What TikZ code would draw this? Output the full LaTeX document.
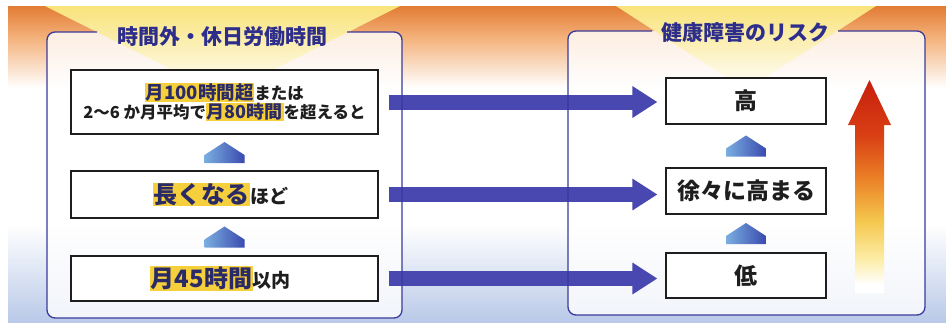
\documentclass[tikz,border=0pt]{standalone}
\usepackage{fontspec}
\setmainfont{Noto Sans CJK JP}
\usetikzlibrary{arrows.meta,calc}
\definecolor{navy}{HTML}{2D2D8C}
\definecolor{frameblue}{HTML}{3A3A9C}
\definecolor{arrowblue}{HTML}{4848B0}
\definecolor{hly}{HTML}{F6CF3C}
\definecolor{hltext}{HTML}{2A2A66}
\definecolor{ink}{HTML}{1E1E1E}
\definecolor{orangeA}{HTML}{E27C34}
\definecolor{orangeB}{HTML}{F4B27C}
\definecolor{bgblue}{HTML}{B9C9E8}
\definecolor{triyellow}{HTML}{F9E37A}
\definecolor{pentL}{HTML}{7AAEE0}
\definecolor{pentR}{HTML}{3A4AAE}
\pgfdeclareverticalshading{riskshade}{100bp}{rgb(0bp)=(1,1,1); rgb(27bp)=(1,1,1); rgb(33bp)=(0.99,0.93,0.65); rgb(42bp)=(0.96,0.78,0.3); rgb(52bp)=(0.92,0.5,0.15); rgb(62bp)=(0.85,0.25,0.08); rgb(75bp)=(0.78,0.12,0.05); rgb(100bp)=(0.78,0.12,0.05)}
\newcommand\hlt[1]{{\setlength{\fboxsep}{0.8pt}\colorbox{hly}{\color{hltext}#1}}}
\newcommand\upmark[2]{\shade[left color=pentL, right color=pentR] ($(#1)!0.5!(#2)+(-20,10.5)$) -- ++(0,-8) -- ++(20,-13) -- ++(20,13) -- ++(0,8) -- cycle;}
\tikzset{
  frameline/.style={draw=frameblue, line width=1.3pt, rounded corners=8pt},
  titletext/.style={font=\bfseries\fontsize{21}{24}\selectfont, text=navy, inner sep=0pt},
  lbox/.style={draw=ink, line width=1.1pt, fill=white, minimum width=307pt, inner sep=0pt, align=center, text=ink, font=\bfseries},
  rbox/.style={draw=ink, line width=1.1pt, fill=white, minimum width=160pt, inner sep=0pt, align=center, text=ink, font=\bfseries\fontsize{23}{28}\selectfont},
  bigarrow/.style={draw=arrowblue, line width=15pt, -{Triangle[width=30pt,length=25pt]}, shorten <=10pt, shorten >=8pt}
}
\begin{document}
\begin{tikzpicture}[x=1pt,y=-1pt]
\useasboundingbox (0,0) rectangle (946,322);
\fill[white] (0,0) rectangle (946,322);
% background bands
\shade[top color=orangeA, bottom color=orangeB] (8,6) rectangle (946,38);
\shade[top color=orangeB, bottom color=white] (8,38) rectangle (946,88);
\shade[top color=white, bottom color=bgblue] (8,225) rectangle (946,322);
% frame fills
\fill[white, opacity=0.8, rounded corners=8pt] (47,32) rectangle (402,318);
\fill[white, opacity=0.8, rounded corners=8pt] (568,31) rectangle (925,315);
% yellow light cones
\shade[top color=triyellow, bottom color=white] (45,6) -- (400,6) -- (223,95) -- cycle;
\shade[top color=triyellow, bottom color=white] (616,6) -- (876,6) -- (746,90) -- cycle;
% boxes
\node[lbox, minimum height=64pt] (L1) at (224.5,102) {\fontsize{16.5}{27}\selectfont\hlt{\fontsize{18.5}{27}\selectfont 月100時間超}または\\\fontsize{16.5}{27}\selectfont 2～6 か月平均で\hlt{\fontsize{18}{27}\selectfont 月80時間}を超えると};
\node[lbox, minimum height=47pt] (L2) at (224.5,194.5) {\hspace*{-8pt}\hlt{\fontsize{24}{28}\selectfont 長くなる}{\fontsize{19}{28}\selectfont ほど}};
\node[lbox, minimum height=45pt] (L3) at (224.5,278.5) {\hspace*{-8pt}\hlt{\fontsize{24}{28}\selectfont 月45時間}{\fontsize{19}{28}\selectfont 以内}};
\node[rbox, minimum height=46pt] (R1) at (746,101) {高};
\node[rbox, minimum height=46pt] (R2) at (746,191) {徐々に高まる};
\node[rbox, minimum height=45pt] (R3) at (746,275.5) {低};
% horizontal arrows
\draw[bigarrow] (L1.east) -- (L1.east -| R1.west);
\draw[bigarrow] (L2.east) -- (L2.east -| R2.west);
\draw[bigarrow] (L3.east) -- (L3.east -| R3.west);
% frame borders and titles
\draw[frameline] (97,32) -- (47,32) -- (47,318) -- (402,318) -- (402,32) -- (347,32);
\draw[frameline] (652,31) -- (568,31) -- (568,315) -- (925,315) -- (925,31) -- (838,31);
\node[titletext] (T1) at (222.5,37) {時間外・休日労働時間};
\node[titletext] (T2) at (745,33) {健康障害のリスク};
% up marks
\upmark{L1.south}{L2.north}
\upmark{L2.south}{L3.north}
\upmark{R1.south}{R2.north}
\upmark{R2.south}{R3.north}
% risk arrow
\shade[shading=riskshade] (855,293) -- (855,125) -- (848,125) -- (869.5,80) -- (891,125) -- (884,125) -- (884,293) -- cycle;
\end{tikzpicture}
\end{document}
